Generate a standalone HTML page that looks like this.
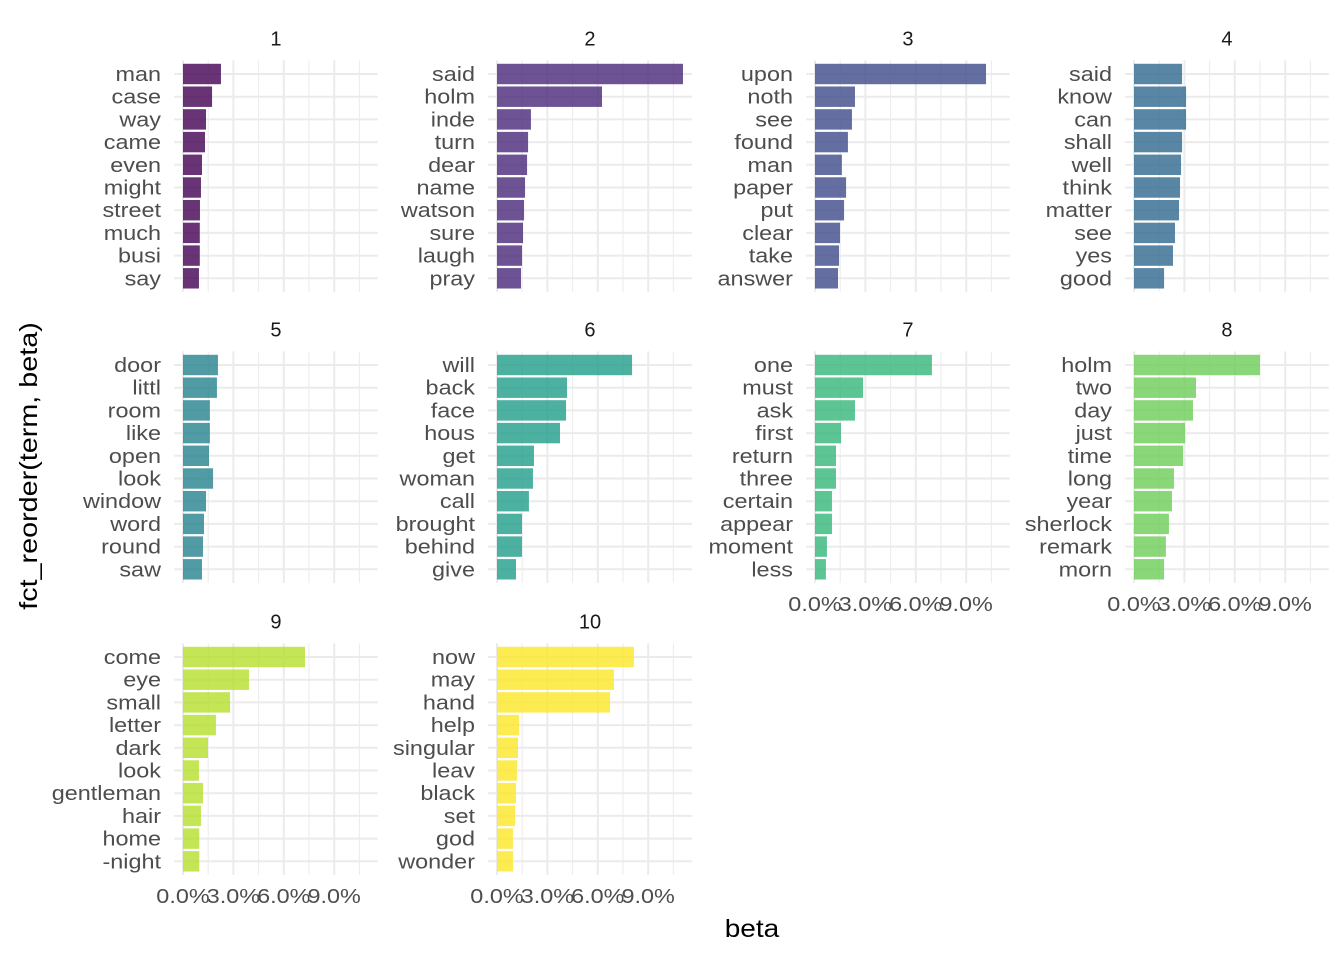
<!DOCTYPE html>
<html><head><meta charset="utf-8">
<style>body{margin:0;background:#fff}svg{display:block}</style></head>
<body>
<svg id="c" width="1344" height="960" xmlns="http://www.w3.org/2000/svg" font-family="Liberation Sans, sans-serif"></svg>
<script>
const topics = ["1","2","3","4","5","6","7","8","9","10"];
const terms = [
 ["man","case","way","came","even","might","street","much","busi","say"],
 ["said","holm","inde","turn","dear","name","watson","sure","laugh","pray"],
 ["upon","noth","see","found","man","paper","put","clear","take","answer"],
 ["said","know","can","shall","well","think","matter","see","yes","good"],
 ["door","littl","room","like","open","look","window","word","round","saw"],
 ["will","back","face","hous","get","woman","call","brought","behind","give"],
 ["one","must","ask","first","return","three","certain","appear","moment","less"],
 ["holm","two","day","just","time","long","year","sherlock","remark","morn"],
 ["come","eye","small","letter","dark","look","gentleman","hair","home","-night"],
 ["now","may","hand","help","singular","leav","black","set","god","wonder"]
];
const betas = [
 [2.26,1.73,1.37,1.31,1.13,1.07,1.01,1.0,1.0,0.95],
 [11.07,6.25,2.02,1.85,1.79,1.67,1.61,1.55,1.49,1.43],
 [10.18,2.38,2.2,1.96,1.6,1.85,1.73,1.49,1.43,1.37],
 [2.86,3.1,3.1,2.86,2.8,2.74,2.68,2.44,2.32,1.79],
 [2.08,2.02,1.6,1.6,1.55,1.79,1.37,1.25,1.19,1.13],
 [8.04,4.17,4.11,3.75,2.2,2.14,1.9,1.49,1.49,1.13],
 [6.96,2.86,2.38,1.55,1.25,1.25,1.01,1.01,0.71,0.65],
 [7.5,3.69,3.51,3.04,2.92,2.38,2.26,2.08,1.9,1.79],
 [7.26,3.93,2.8,1.96,1.49,0.95,1.19,1.07,0.97,0.97],
 [8.15,6.96,6.73,1.31,1.25,1.19,1.13,1.07,0.95,0.95]
];
const xTicks = [0,3,6,9];
const xTickLabels = ["0.0%","3.0%","6.0%","9.0%"];
const colors = ["#440154","#482878","#3E4A89","#31688E","#26828E","#1F9E89","#35B779","#6DCD59","#B4DE2C","#FDE725"];

const svg = document.getElementById('c');
const NS = "http://www.w3.org/2000/svg";
function mk(tag, attrs, parent){const e=document.createElementNS(NS,tag);for(const k in attrs)e.setAttribute(k,attrs[k]);(parent||svg).appendChild(e);return e;}
function widen(el,f){const w=el.getComputedTextLength();el.setAttribute('textLength',w*f);el.setAttribute('lengthAdjust','spacingAndGlyphs');}
const zeroX = [183,497,815,1134];
const firstY = [74,365,657];
const step = 22.7;
const pxPer = 16.8;
const xMin = -0.53, xMax = 11.6;

topics.forEach((t,i)=>{
  const col=i%4,row=Math.floor(i/4);
  const g=mk('g',{});
  
  
  const x0=zeroX[col];
  const xs=v=>x0+v*pxPer;
  const ys=k=>firstY[row]+k*step;
  const top=ys(0)-0.6*step, bot=ys(9)+0.6*step;
  const left=xs(xMin), right=xs(xMax);
  for(let m=1.5;m<xMax;m+=3) mk('line',{x1:xs(m),x2:xs(m),y1:top,y2:bot,stroke:'#ebebeb','stroke-width':1},g);
  xTicks.forEach(v=>mk('line',{x1:xs(v),x2:xs(v),y1:top,y2:bot,stroke:'#ebebeb','stroke-width':2},g));
  terms[i].forEach((w,k)=>mk('line',{x1:left,x2:right,y1:ys(k),y2:ys(k),stroke:'#ebebeb','stroke-width':2},g));
  const strip=mk('text',{x:(left+right)/2,y:top-15,'text-anchor':'middle','font-size':20,fill:'#1a1a1a'},g);
  strip.textContent=t;
  
  
  terms[i].forEach((w,k)=>{
    const b=betas[i][k];
    const r=mk('rect',{x:xs(0),y:ys(k)-0.45*step,width:xs(b)-xs(0),height:0.9*step,fill:colors[i],'fill-opacity':0.8},g);
    
    
    const l=mk('text',{x:x0-22,y:ys(k)+7,'text-anchor':'end','font-size':20,fill:'#4d4d4d'},g);
    l.textContent=w;
    
    
    widen(l,1.17);
  });
  const showX = (row===1&&col>=2)||row===2;
  if(showX){
    xTicks.forEach((v,j)=>{
      const tl=mk('text',{x:xs(v),y:bot+20+8,'text-anchor':'middle','font-size':20,fill:'#4d4d4d'},g);
      tl.textContent=xTickLabels[j];
      
      
      widen(tl,1.17);
    });
  }
});
const xt=mk('text',{x:752,y:937,'text-anchor':'middle','font-size':25,fill:'#000'});
xt.textContent='beta';


widen(xt,1.12);
const yt=mk('text',{x:0,y:0,'text-anchor':'middle','font-size':25,fill:'#000',transform:'translate(37,466) rotate(-90)'});
yt.textContent='fct_reorder(term, beta)';


widen(yt,1.15);
</script>
</body></html>
